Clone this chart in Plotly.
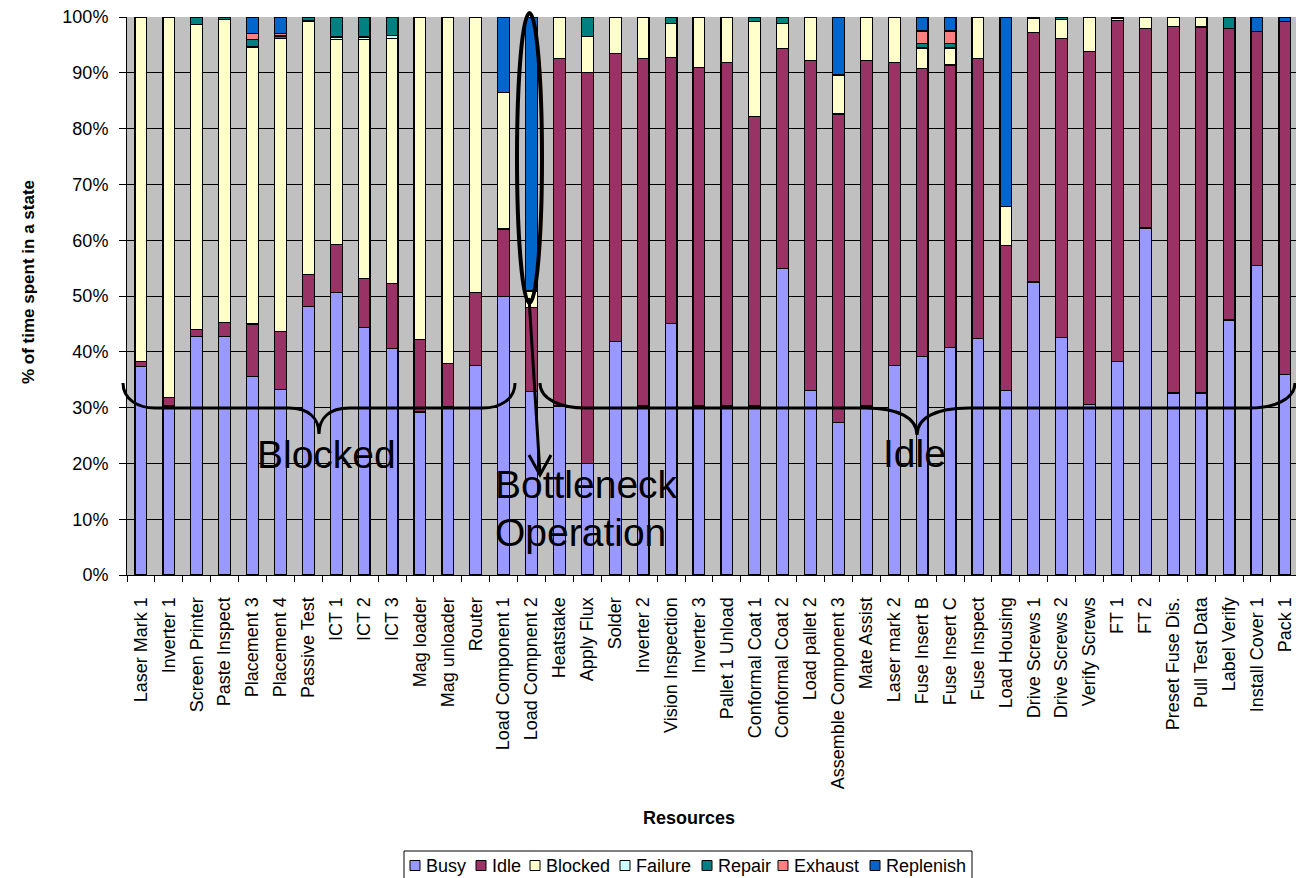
import plotly.graph_objects as go

# Resources on the line and share of time spent in each state (%)
resources = [
    "Laser Mark 1", "Inverter 1", "Screen Printer", "Paste Inspect", "Placement 3",
    "Placement 4", "Passive Test", "ICT 1", "ICT 2", "ICT 3", "Mag loader",
    "Mag unloader", "Router", "Load Component 1", "Load Compnent 2", "Heatstake",
    "Apply Flux", "Solder", "Inverter 2", "Vision Inspection", "Inverter 3",
    "Pallet 1 Unload", "Conformal Coat 1", "Conformal Coat 2", "Load pallet 2",
    "Assemble Component 3", "Mate Assist", "Laser mark 2", "Fuse Insert B",
    "Fuse Insert C", "Fuse Inspect", "Load Housing", "Drive Screws 1",
    "Drive Screws 2", "Verify Screws", "FT 1", "FT 2", "Preset Fuse Dis.",
    "Pull Test Data", "Label Verify", "Install Cover 1", "Pack 1",
]

busy = [37.4, 30.3, 42.8, 42.8, 35.6, 33.2, 48.1, 50.6, 44.4, 40.6, 29.2, 30.1,
        37.5, 49.9, 32.9, 30.3, 20.0, 41.8, 30.3, 45.1, 30.3, 30.3, 30.3, 55.0,
        33.0, 27.3, 30.3, 37.6, 39.1, 40.8, 42.4, 33.0, 52.5, 42.5, 30.6, 38.2,
        62.2, 32.6, 32.6, 45.7, 55.5, 36.0]
idle = [0.9, 1.5, 1.2, 2.4, 9.4, 10.4, 5.7, 8.6, 8.8, 11.7, 13.0, 7.8,
        13.1, 12.1, 15.0, 62.2, 70.1, 51.7, 62.2, 47.6, 60.7, 61.5, 51.9, 39.4,
        59.2, 55.3, 61.9, 54.3, 51.7, 50.6, 50.1, 26.1, 44.7, 53.7, 63.2, 61.2,
        35.8, 65.7, 65.6, 52.3, 41.9, 63.2]
blocked = [61.7, 68.2, 54.6, 54.4, 49.6, 52.5, 45.5, 36.8, 42.7, 43.9, 57.8, 62.1,
           49.4, 24.5, 3.0, 7.5, 6.4, 6.5, 7.5, 6.1, 9.0, 8.2, 17.0, 4.4,
           7.8, 7.0, 7.8, 8.1, 3.6, 2.9, 7.5, 6.9, 2.5, 3.3, 6.2, 0.3,
           2.0, 1.7, 1.8, 0.0, 0.0, 0.0]
failure = [0, 0, 0.1, 0, 0.1, 0, 0, 0.4, 0.5, 0.5, 0, 0,
           0, 0, 0, 0, 0, 0, 0, 0, 0, 0, 0, 0,
           0, 0, 0, 0, 0.2, 0.3, 0, 0, 0, 0, 0, 0,
           0, 0, 0, 0, 0, 0]
repair = [0, 0, 1.3, 0.4, 1.3, 0.5, 0.7, 3.6, 3.6, 3.3, 0, 0,
          0, 0, 0, 0, 3.5, 0, 0, 1.2, 0, 0, 0.8, 1.2,
          0, 0, 0, 0, 0.7, 0.7, 0, 0, 0.3, 0.5, 0, 0.3,
          0, 0, 0, 2.0, 0, 0]
exhaust = [0, 0, 0, 0, 1.0, 0.4, 0, 0, 0, 0, 0, 0,
           0, 0, 0, 0, 0, 0, 0, 0, 0, 0, 0, 0,
           0, 0, 0, 0, 2.2, 2.2, 0, 0, 0, 0, 0, 0,
           0, 0, 0, 0, 0, 0]
replenish = [0, 0, 0, 0, 3.0, 3.0, 0, 0, 0, 0, 0, 0,
             0, 13.5, 49.1, 0, 0, 0, 0, 0, 0, 0, 0, 0,
             0, 10.4, 0, 0, 2.5, 2.5, 0, 34.0, 0, 0, 0, 0,
             0, 0, 0, 0, 2.6, 0.8]

series_names = ["Busy", "Idle", "Blocked", "Failure", "Repair", "Exhaust", "Replenish"]
series_values = [busy, idle, blocked, failure, repair, exhaust, replenish]
series_colors = ["#9999FF", "#993366", "#FFFFCC", "#CCFFFF", "#008080", "#FF8080", "#0066CC"]

FONT = "Arial, Liberation Sans, sans-serif"

# page geometry (pixels) of the plotting area
W, H = 1296, 878
L, T, B_EDGE = 127, 17, 575
PLOT_W = W - L
PLOT_H = B_EDGE - T


def px(x):
    return (x - L) / PLOT_W


def py(y):
    return (B_EDGE - y) / PLOT_H


def path(cmds):
    out = []
    for c in cmds:
        op, pts = c[0], c[1:]
        coords = " ".join(f"{px(x):.5f},{py(y):.5f}" for x, y in pts)
        out.append(f"{op} {coords}")
    return " ".join(out)


def brace(x0, xc, x1, y_end, y_line, y_tip, bend=32, cusp=30):
    return path([
        ("M", (x0, y_end)),
        ("C", (x0, y_end + 17), (x0 + bend * 0.5, y_line), (x0 + bend, y_line)),
        ("L", (xc - cusp, y_line)),
        ("C", (xc - cusp * 0.35, y_line), (xc, y_line + 10), (xc, y_tip)),
        ("C", (xc, y_line + 10), (xc + cusp * 0.35, y_line), (xc + cusp, y_line)),
        ("L", (x1 - bend, y_line)),
        ("C", (x1 - bend * 0.5, y_line), (x1, y_end + 17), (x1, y_end)),
    ])


fig = go.Figure()
for name, vals, col in zip(series_names, series_values, series_colors):
    fig.add_trace(go.Bar(
        name=name, x=resources, y=vals,
        marker=dict(color=col, line=dict(color="black", width=1.2)),
        width=0.42,
    ))

shapes = [
    # braces grouping blocked and idle resources
    dict(type="path", xref="paper", yref="paper",
         path=brace(123, 319, 515, 383, 408, 434),
         line=dict(color="black", width=3)),
    dict(type="path", xref="paper", yref="paper",
         path=brace(540, 917, 1295, 383, 408, 435, bend=45, cusp=52),
         line=dict(color="black", width=3)),
    # ring around the bottleneck bar
    dict(type="circle", xref="paper", yref="paper",
         x0=px(517), x1=px(542), y0=py(303), y1=py(13),
         line=dict(color="black", width=4)),
    # arrow pointing to the bottleneck label
    dict(type="path", xref="paper", yref="paper",
         path=path([("M", (529, 298)), ("L", (540, 474))]),
         line=dict(color="black", width=3)),
    dict(type="path", xref="paper", yref="paper",
         path=path([("M", (529, 455)), ("L", (540, 475)), ("L", (551, 455))]),
         line=dict(color="black", width=3)),
]

big = dict(family=FONT, size=39, color="black")
annotations = [
    dict(text="Blocked", x=px(255), y=py(454), xanchor="left", yanchor="middle",
         xref="paper", yref="paper", showarrow=False, font=big),
    dict(text="Bottleneck", x=px(493), y=py(484), xanchor="left", yanchor="middle",
         xref="paper", yref="paper", showarrow=False, font=big),
    dict(text="Operation", x=px(493), y=py(532), xanchor="left", yanchor="middle",
         xref="paper", yref="paper", showarrow=False, font=big),
    dict(text="Idle", x=px(881), y=py(453), xanchor="left", yanchor="middle",
         xref="paper", yref="paper", showarrow=False, font=big),
    dict(text="<b>% of time spent in a state</b>", x=px(28), y=py(282),
         xanchor="center", yanchor="middle", textangle=-90,
         xref="paper", yref="paper", showarrow=False,
         font=dict(family=FONT, size=17, color="black")),
    dict(text="<b>Resources</b>", x=px(689), y=py(818),
         xanchor="center", yanchor="middle",
         xref="paper", yref="paper", showarrow=False,
         font=dict(family=FONT, size=18, color="black")),
]

# legend strip under the chart: framed row of swatches and series names
legend_box = dict(type="rect", xref="paper", yref="paper",
                  x0=px(404), x1=px(972), y0=py(885), y1=py(851),
                  line=dict(color="black", width=1), fillcolor="white")
shapes.append(legend_box)
legend_left = [410, 476, 530, 620, 702, 778, 870]
for x0, name, col in zip(legend_left, series_names, series_colors):
    shapes.append(dict(type="rect", xref="paper", yref="paper",
                       x0=px(x0), x1=px(x0 + 10), y0=py(870.5), y1=py(860.5),
                       line=dict(color="black", width=1), fillcolor=col))
    annotations.append(dict(text=name, x=px(x0 + 14), y=py(865.5),
                            xanchor="left", yanchor="middle",
                            xref="paper", yref="paper", showarrow=False,
                            font=dict(family=FONT, size=18, color="black")))

n = len(resources)
fig.update_layout(
    width=W, height=H,
    margin=dict(l=L, r=0, t=T, b=H - B_EDGE, pad=0),
    barmode="stack",
    paper_bgcolor="white",
    plot_bgcolor="#C0C0C0",
    font=dict(family=FONT, size=18, color="black"),
    showlegend=False,
    xaxis=dict(
        type="category", range=[-0.5, -0.5 + PLOT_W / (1171.8 / n)],
        tickangle=-90, tickson="boundaries", ticks="outside", ticklen=6,
        tickcolor="black", showline=True, linecolor="black", linewidth=1,
        showgrid=False, ticklabelstandoff=14, automargin=False,
        tickfont=dict(family=FONT, size=18, color="black"),
    ),
    yaxis=dict(
        range=[0, 100], dtick=10, ticksuffix="%", ticks="outside", ticklen=7,
        tickcolor="black", showline=True, linecolor="black", linewidth=1,
        showgrid=True, gridcolor="black", gridwidth=1, zeroline=False,
        ticklabelstandoff=7, automargin=False,
        tickfont=dict(family=FONT, size=18, color="black"),
    ),
    shapes=shapes,
    annotations=annotations,
)

fig.write_html("out.html")
